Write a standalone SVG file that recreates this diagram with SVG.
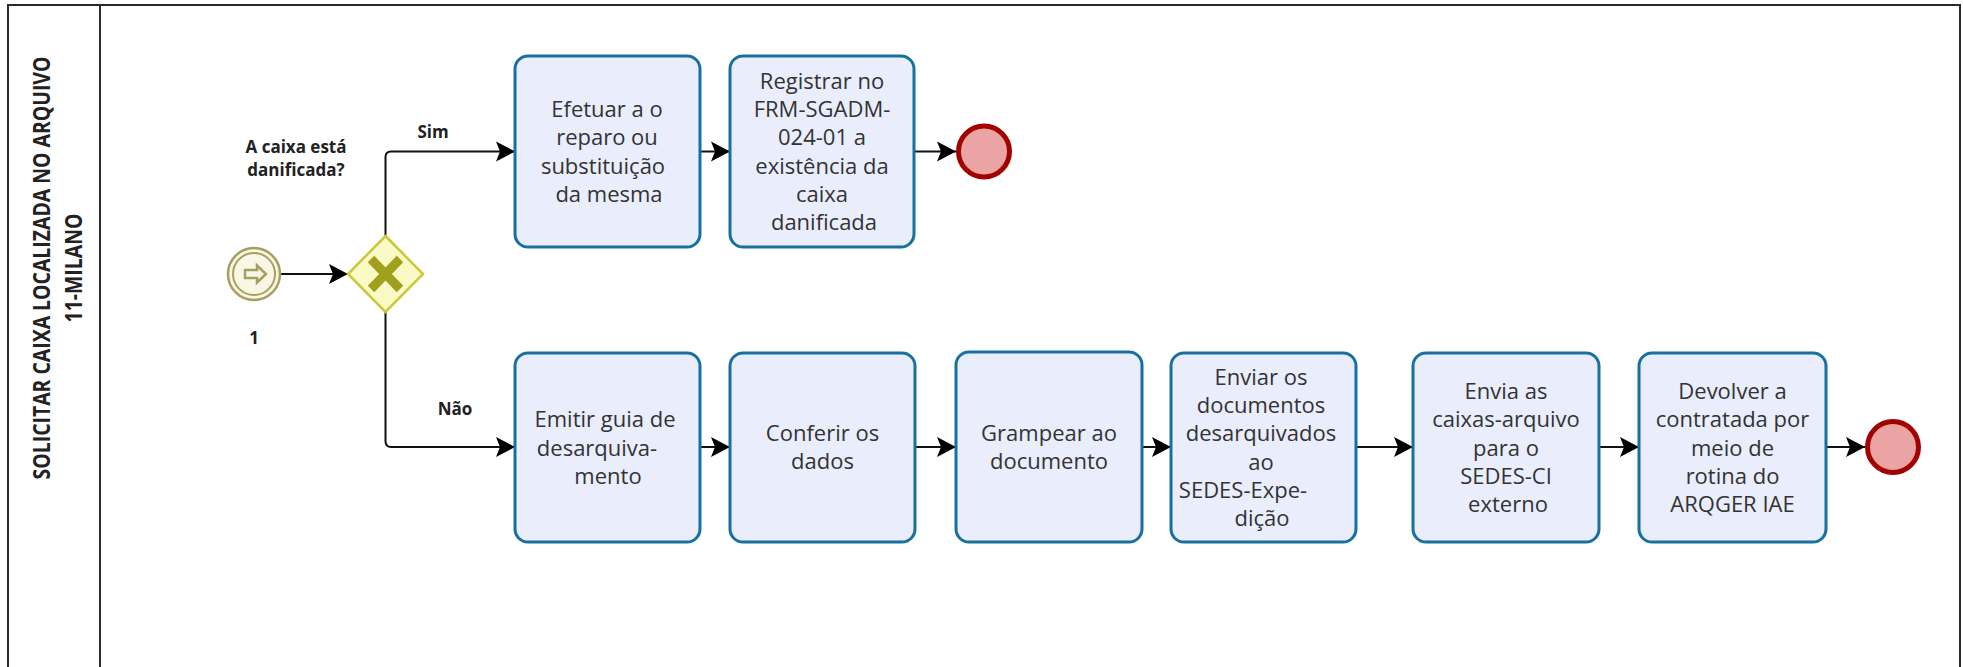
<svg xmlns="http://www.w3.org/2000/svg" width="1963" height="667" viewBox="0 0 1963 667">
<defs>
<style>
.lane{fill:#ffffff;stroke:#2b2b2b;stroke-width:2}
.task rect{fill:#e9edfc;stroke:#17709e;stroke-width:3}
.task text{font-family:"Open Sans","Liberation Sans",sans-serif;font-size:22px;fill:#333333;text-anchor:middle}
.lbl{font-family:"Open Sans","Liberation Sans",sans-serif;font-size:17px;font-weight:bold;fill:#222222;text-anchor:middle}
.title{font-family:"Open Sans","Liberation Sans",sans-serif;font-size:24px;font-weight:bold;fill:#222222;text-anchor:middle}
.flow{fill:none;stroke:#111111;stroke-width:2;marker-end:url(#arr)}
.end circle{fill:#eba4a4;stroke:#a30000;stroke-width:5}
</style>
<marker id="arr" markerUnits="userSpaceOnUse" markerWidth="20" markerHeight="22" refX="19" refY="11" orient="auto" overflow="visible">
<path d="M19,11 L0,1 L4,11 L0,21 Z" fill="#000000"/>
</marker>
</defs>

<g id="lane">
<rect class="lane" x="8" y="5" width="1952" height="690"/>
<line x1="100" y1="5" x2="100" y2="667" stroke="#2b2b2b" stroke-width="2"/>
<g transform="translate(50,268) rotate(-90) scale(0.81,1)">
<text class="title" x="0" y="0">SOLICITAR CAIXA LOCALIZADA NO ARQUIVO</text>
<text class="title" x="0" y="32">11-MILANO</text>
</g>
</g>

<g id="connectors">
<path class="flow" d="M281,274 H348"/>
<path class="flow" d="M385.5,236 V157 Q385.5,151.5 391,151.5 H515"/>
<path class="flow" d="M385.5,312 V441 Q385.5,447 391,447 H515"/>
<path class="flow" d="M700,151.5 H730"/>
<path class="flow" d="M914,151.5 H956"/>
<path class="flow" d="M700,447 H730"/>
<path class="flow" d="M915,447 H956"/>
<path class="flow" d="M1142,447 H1171"/>
<path class="flow" d="M1356,447 H1413"/>
<path class="flow" d="M1599,447 H1639"/>
<path class="flow" d="M1826,447 H1865"/>
<text class="lbl" x="433" y="138">Sim</text>
<text class="lbl" x="455" y="415">Não</text>
</g>

<g id="start">
<circle cx="254" cy="274" r="26" fill="#faf6e4" stroke="#a59f60" stroke-width="2.5"/>
<circle cx="254" cy="274" r="21" fill="none" stroke="#a59f60" stroke-width="2"/>
<path d="M245,270 H257 V265.5 L266,274 L257,282.5 V278 H245 Z" fill="none" stroke="#a59f60" stroke-width="2.5" stroke-linejoin="miter"/>
<text class="lbl" x="254" y="344">1</text>
</g>

<g id="gateway">
<path d="M385.5,236 L423,274 L385.5,312 L348,274 Z" fill="#fafac6" stroke="#c9c93a" stroke-width="2.5"/>
<path d="M371,259 L400,289 M400,259 L371,289" stroke="#a0a01c" stroke-width="9" stroke-linecap="butt"/>
<text class="lbl" x="296" y="153">A caixa está</text>
<text class="lbl" x="296" y="176">danificada?</text>
</g>

<g id="t1" class="task">
<rect x="515" y="56" width="185" height="191" rx="13"/>
<text x="607" y="117">Efetuar a o</text>
<text x="607" y="145.3">reparo ou</text>
<text x="603" y="173.6">substituição</text>
<text x="609" y="201.9">da mesma</text>
</g>

<g id="t2" class="task">
<rect x="730" y="56" width="184" height="191" rx="13"/>
<text x="822" y="88.8">Registrar no</text>
<text x="822" y="117.1">FRM-SGADM-</text>
<text x="822" y="145.4">024-01 a</text>
<text x="822" y="173.7">existência da</text>
<text x="822" y="202">caixa</text>
<text x="824" y="230.3">danificada</text>
</g>

<g id="end1" class="end">
<circle cx="984" cy="151.5" r="25.5"/>
</g>

<g id="t3" class="task">
<rect x="515" y="353" width="185" height="189" rx="13"/>
<text x="605" y="427.2">Emitir guia de</text>
<text x="597" y="455.5">desarquiva-</text>
<text x="608" y="483.8">mento</text>
</g>

<g id="t4" class="task">
<rect x="730" y="353" width="185" height="189" rx="13"/>
<text x="822.5" y="440.5">Conferir os</text>
<text x="822.5" y="468.8">dados</text>
</g>

<g id="t5" class="task">
<rect x="956" y="352" width="186" height="190" rx="13"/>
<text x="1049" y="440.5">Grampear ao</text>
<text x="1049" y="468.8">documento</text>
</g>

<g id="t6" class="task">
<rect x="1171" y="353" width="185" height="189" rx="13"/>
<text x="1261" y="384.7">Enviar os</text>
<text x="1261" y="413">documentos</text>
<text x="1261" y="441.3">desarquivados</text>
<text x="1261" y="469.6">ao</text>
<text x="1243" y="497.9">SEDES-Expe-</text>
<text x="1262" y="526.2">dição</text>
</g>

<g id="t7" class="task">
<rect x="1413" y="353" width="186" height="189" rx="13"/>
<text x="1506" y="398.9">Envia as</text>
<text x="1506" y="427.2">caixas-arquivo</text>
<text x="1506" y="455.5">para o</text>
<text x="1506" y="483.8">SEDES-CI</text>
<text x="1508" y="512.1">externo</text>
</g>

<g id="t8" class="task">
<rect x="1639" y="353" width="187" height="189" rx="13"/>
<text x="1732.5" y="398.9">Devolver a</text>
<text x="1732.5" y="427.2">contratada por</text>
<text x="1732.5" y="455.5">meio de</text>
<text x="1732.5" y="483.8">rotina do</text>
<text x="1732.5" y="512.1">ARQGER IAE</text>
</g>

<g id="end2" class="end">
<circle cx="1893" cy="447" r="25.5"/>
</g>
</svg>
